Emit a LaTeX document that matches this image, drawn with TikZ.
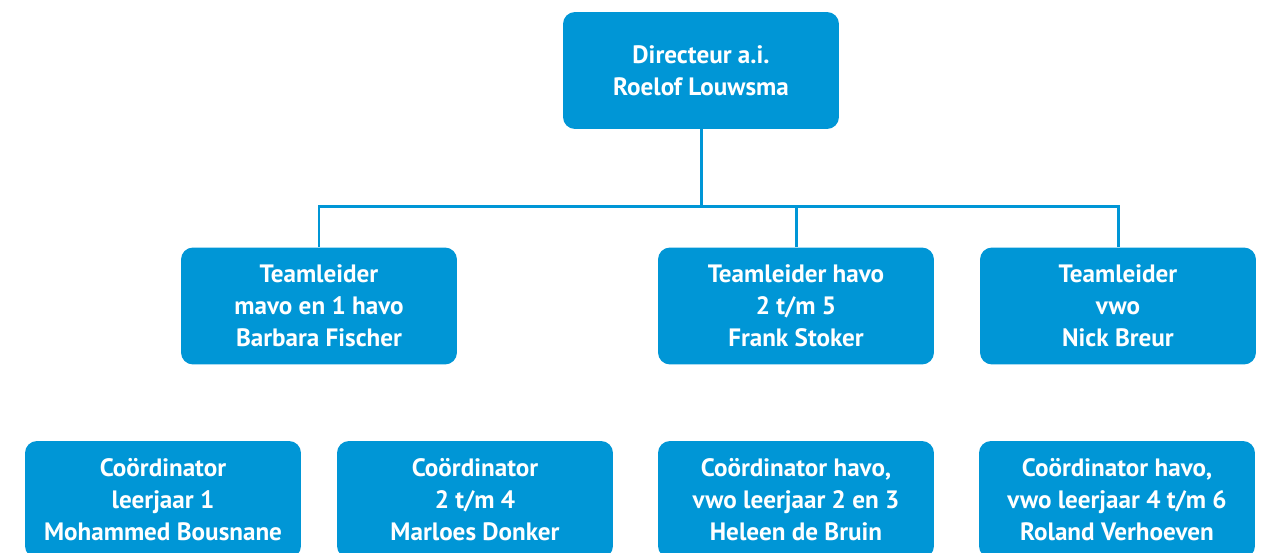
\documentclass[tikz,border=0pt]{standalone}
\usepackage{fontspec}
\setmainfont{PT Sans}
\definecolor{orgblue}{HTML}{0096D6}
\begin{document}
\begin{tikzpicture}[x=0.02cm,y=-0.02cm,
  box/.style={fill=orgblue, draw=none, rounded corners=0.24cm, minimum width=5.52cm, minimum height=2.34cm, inner sep=0pt, align=center, text=white, font=\fontsize{14.3}{18.1}\selectfont\bfseries},
  link/.style={draw=orgblue, line width=1.7pt}]
\useasboundingbox (0,0) rectangle (1268,552);
\clip (0,0) rectangle (1268,552);
\node[box] (dir) at (701,70.5) {Directeur a.i.\\Roelof Louwsma};
\node[box] (t1) at (319,306) {Teamleider\\mavo en 1 havo\\Barbara Fischer};
\node[box] (t2) at (796,306) {Teamleider havo\\2 t/m 5\\Frank Stoker};
\node[box] (t3) at (1118,306) {Teamleider\\vwo\\Nick Breur};
\node[box] (c1) at (163,499.5) {Coördinator\\leerjaar 1\\Mohammed Bousnane};
\node[box] (c2) at (475,499.5) {Coördinator\\2 t/m 4\\Marloes Donker};
\node[box] (c3) at (796,499.5) {Coördinator havo,\\vwo leerjaar 2 en 3\\Heleen de Bruin};
\node[box] (c4) at (1117,499.5) {Coördinator havo,\\vwo leerjaar 4 t/m 6\\Roland Verhoeven};
\coordinate (bus) at (701,206);
\draw[link] (dir.south) -- (bus);
\draw[link] (t1.north) |- (bus);
\draw[link] (t3.north) |- (bus);
\draw[link] (t2.north) -- (t2.north |- bus);
\end{tikzpicture}
\end{document}
